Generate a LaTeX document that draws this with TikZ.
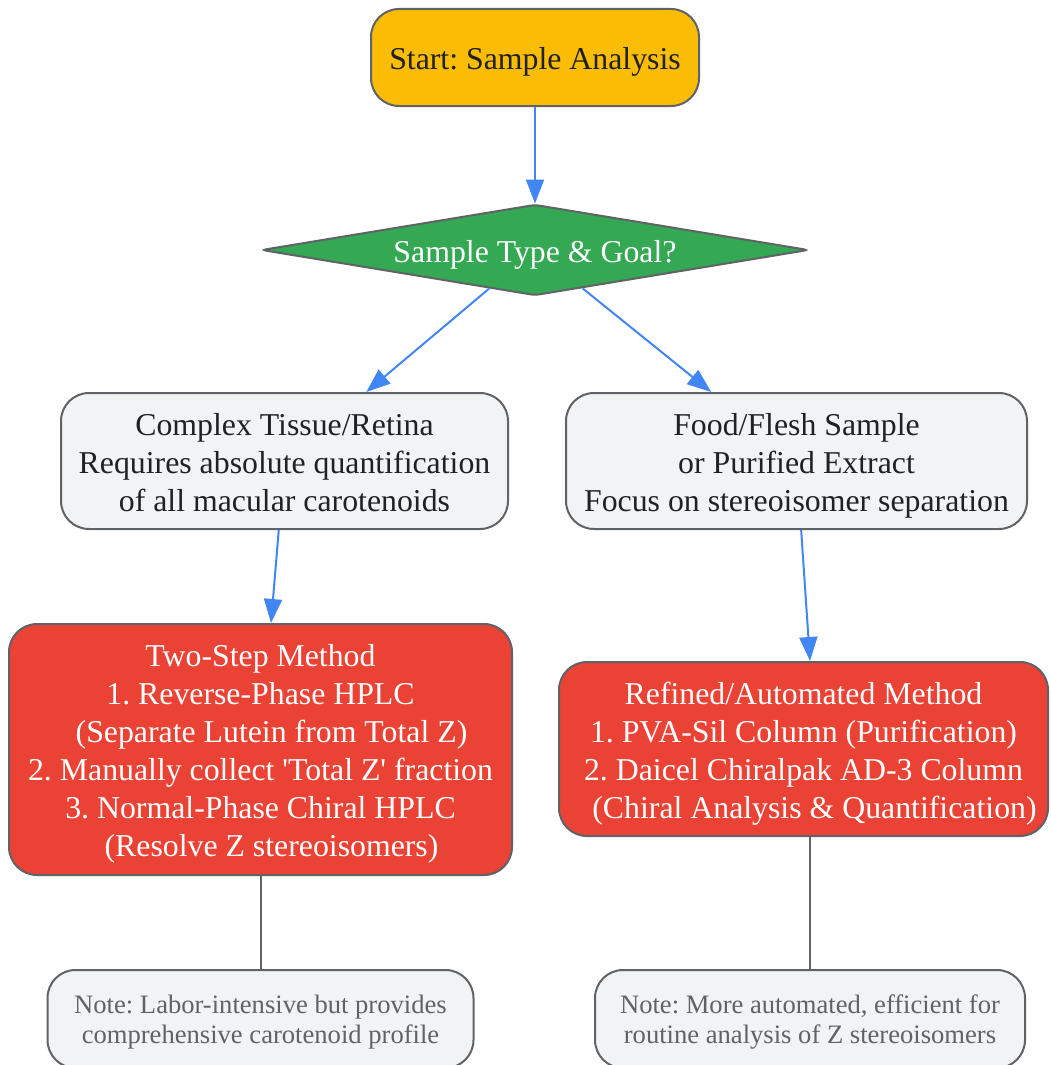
\documentclass[tikz,border=0pt]{standalone}
\usepackage{fontspec}
\setmainfont{Liberation Serif}
\usetikzlibrary{shapes.geometric, arrows.meta}
\definecolor{startfill}{HTML}{FBBC05}
\definecolor{goalfill}{HTML}{34A853}
\definecolor{methodfill}{HTML}{EA4335}
\definecolor{boxfill}{HTML}{F1F3F4}
\definecolor{edgegray}{HTML}{5F6368}
\definecolor{flowblue}{HTML}{4285F4}
\definecolor{textdark}{HTML}{202124}
\newcommand{\bigstrut}{\rule{0pt}{31pt}}
\newcommand{\bigdepth}{\rule[-7pt]{0pt}{7pt}}
\newcommand{\notestrut}{\rule{0pt}{24pt}}
\frenchspacing

\begin{document}
\begin{tikzpicture}[x = 1pt, y = -1pt,
  box/.style = {draw = edgegray, line width = 2pt, rounded corners = 28pt, align = center, inner sep = 0pt},
  bigbox/.style = {box, font = \fontsize{31.8}{38}\selectfont},
  notebox/.style = {box, fill = boxfill, text = edgegray, minimum height = 98pt, font = \fontsize{26.6}{30}\selectfont},
  flow/.style = {draw = flowblue, line width = 2pt, -{Triangle[length = 24pt, width = 18pt]}},
  link/.style = {draw = edgegray, line width = 2pt}]
\useasboundingbox (0, 0) rectangle (1051, 1065);
\node[bigbox, fill = startfill, text = textdark, minimum width = 328pt, minimum height = 97pt] (start) at (535, 57.5) {\bigstrut Start: Sample Analysis\bigdepth};
\node[bigbox, shape = diamond, rounded corners = 4pt, aspect = 6, fill = goalfill, text = white, minimum width = 547pt, minimum height = 91pt] (goal) at (535, 250) {\bigstrut Sample Type \& Goal?\bigdepth};
\node[bigbox, fill = boxfill, text = textdark, minimum width = 447pt, minimum height = 136pt] (tissue) at (284.5, 461) {\bigstrut Complex Tissue/Retina\\Requires absolute quantification\\of all macular carotenoids\bigdepth};
\node[bigbox, fill = boxfill, text = textdark, minimum width = 461pt, minimum height = 136pt] (food) at (796.5, 461) {\bigstrut Food/Flesh Sample\\or Purified Extract\\Focus on stereoisomer separation\bigdepth};
\node[bigbox, fill = methodfill, text = white, minimum width = 503pt, minimum height = 251pt] (twostep) at (260.5, 749.5) {\bigstrut Two-Step Method\\1. Reverse-Phase HPLC\\\hspace*{22pt}(Separate Lutein from Total Z)\\2. Manually collect \textquotesingle Total Z\textquotesingle{} fraction\\3. Normal-Phase Chiral HPLC\\\hspace*{22pt}(Resolve Z stereoisomers)\bigdepth};
\node[bigbox, fill = methodfill, text = white, minimum width = 489pt, minimum height = 174pt] (refined) at (803.5, 749) {\bigstrut Refined/Automated Method\\1. PVA-Sil Column (Purification)\\2. Daicel Chiralpak AD-3 Column\\\hspace*{22pt}(Chiral Analysis \& Quantification)\bigdepth};
\node[notebox, minimum width = 426pt] (noteL) at (260.5, 1019) {\notestrut Note: Labor-intensive but provides\\comprehensive carotenoid profile};
\node[notebox, minimum width = 430pt] (noteR) at (810, 1019) {\notestrut Note: More automated, efficient for\\routine analysis of Z stereoisomers};
\draw[flow] (start) -- (goal);
\draw[flow] (goal) -- (tissue);
\draw[flow] (goal) -- (food);
\draw[flow] (tissue) -- (twostep);
\draw[flow] (food) -- (refined.north -| noteR.north);
\draw[link] (twostep) -- (noteL);
\draw[link] (noteR.north) -- (noteR.north |- refined.south);
\end{tikzpicture}
\end{document}
